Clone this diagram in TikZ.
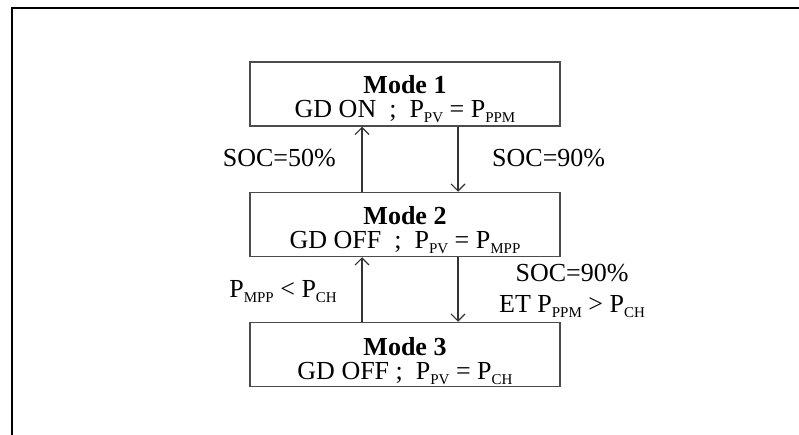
\documentclass[tikz,border=0pt]{standalone}
\usepackage{fontspec}
\setmainfont{Liberation Serif}
\usetikzlibrary{arrows.meta,calc}
% lowered, smaller subscript used in the power labels
\newcommand{\lowsub}[1]{\raisebox{-0.2em}{\fontsize{15}{15}\selectfont #1}}
\begin{document}
\begin{tikzpicture}[x=1pt,y=-1pt,
  every node/.style={font=\fontsize{26}{26}\selectfont, inner sep=0pt},
  modebox/.style={draw=black!70, line width=1.5pt, minimum width=310pt, minimum height=64pt},
  trans/.style={draw=black!80, line width=1.1pt, -{Straight Barb[length=7pt,width=14pt]}},
  txt/.style={anchor=base}]
  \useasboundingbox (0,0) rectangle (799,435);
  % outer frame
  \draw[line width=2pt] (12,440) -- (12,8) -- (805,8);

  % the three operating modes
  \node[modebox] (m1) at (405,94) {};
  \node[modebox] (m2) at (405,224.5) {};
  \node[modebox] (m3) at (405,354.5) {};

  \node[txt] (t1a) at ($(m1.north)+(0,32)$) {\textbf{Mode 1}};
  \node[txt] (t1b) at ($(m1.north)+(0,56)$) {GD ON\ \ ;\ \ P\lowsub{PV} = P\lowsub{PPM}};
  \node[txt] (t2a) at ($(m2.north)+(0,33)$) {\textbf{Mode 2}};
  \node[txt] (t2b) at ($(m2.north)+(0,57)$) {GD OFF\ \ ;\ \ P\lowsub{PV} = P\lowsub{MPP}};
  \node[txt] (t3a) at ($(m3.north)+(0,34)$) {\textbf{Mode 3}};
  \node[txt] (t3b) at ($(m3.north)+(0,58)$) {GD OFF ;\ \ P\lowsub{PV} = P\lowsub{CH}};

  % transitions
  \draw[trans] ([xshift=-43pt]m2.north) -- ([xshift=-43pt]m1.south);
  \draw[trans] ([xshift=53pt]m1.south) -- ([xshift=53pt]m2.north);
  \draw[trans] ([xshift=-43pt]m3.north) -- ([xshift=-43pt]m2.south);
  \draw[trans] ([xshift=53pt]m2.south) -- ([xshift=53pt]m3.north);

  % transition conditions
  \node[anchor=base east] (c1) at (336,167) {SOC=50\%};
  \node[anchor=base west] (c2) at (492,167) {SOC=90\%};
  \node[anchor=base east] (c3) at (337,297) {P\lowsub{MPP} < P\lowsub{CH}};
  \node[anchor=base] (c4a) at (572,281) {SOC=90\%};
  \node[anchor=base] (c4b) at (572,312) {ET P\lowsub{PPM} > P\lowsub{CH}};
\end{tikzpicture}
\end{document}
